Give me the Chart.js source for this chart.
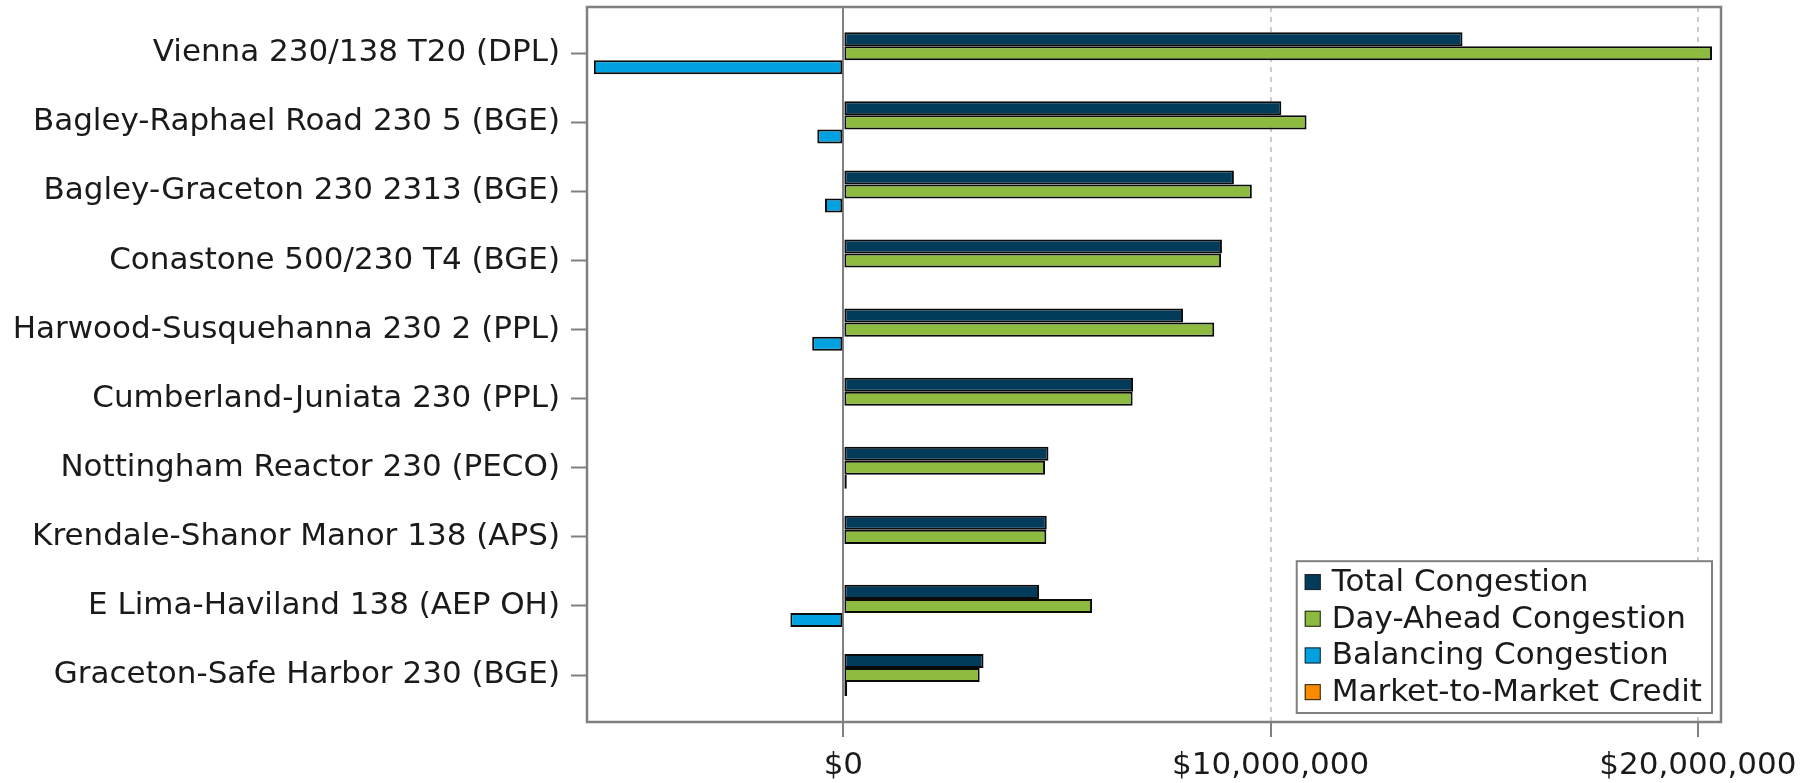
<!DOCTYPE html>
<html>
<head>
<meta charset="utf-8">
<script src="https://cdn.jsdelivr.net/npm/chart.js@4.4.1/dist/chart.umd.min.js"></script>
<style>
  html, body { margin: 0; padding: 0; background: #fff; }
  #wrap { width: 1803px; height: 783px; }
</style>
</head>
<body>
<div id="wrap"><canvas id="chart" width="1803" height="783"></canvas></div>
<script>
// Data (dollars)
const constraints = [
    'Vienna 230/138 T20 (DPL)',
    'Bagley-Raphael Road 230 5 (BGE)',
    'Bagley-Graceton 230 2313 (BGE)',
    'Conastone 500/230 T4 (BGE)',
    'Harwood-Susquehanna 230 2 (PPL)',
    'Cumberland-Juniata 230 (PPL)',
    'Nottingham Reactor 230 (PECO)',
    'Krendale-Shanor Manor 138 (APS)',
    'E Lima-Haviland 138 (AEP OH)',
    'Graceton-Safe Harbor 230 (BGE)'
];
const totalCongestion = [14490000, 10250000, 9140000, 8860000, 7950000, 6780000, 4800000, 4760000, 4580000, 3280000];
const dayAheadCongestion = [20330000, 10840000, 9560000, 8840000, 8680000, 6770000, 4720000, 4750000, 5820000, 3190000];
const balancingCongestion = [-5840000, -610000, -430000, 20000, -730000, 0, 80000, 0, -1240000, 90000];
const marketToMarketCredit = [0, 0, 0, 0, 0, 0, 0, 0, 0, 0];
const xTicks = [0, 10000000, 20000000];

const FONT = { family: '"DejaVu Sans", sans-serif', size: 31 };
const TEXT_COLOR = '#1a1a1a';
const AXIS_GRAY = '#808080';

function toPoints(arr) {
    return arr.map((v, i) => ({ x: v, y: i }));
}

// frame around the plot area
const framePlugin = {
    id: 'frame',
    beforeDatasetsDraw(chart) {
        const { ctx, chartArea: a } = chart;
        ctx.save();
        ctx.strokeStyle = AXIS_GRAY;
        ctx.lineWidth = 2.5;
        ctx.strokeRect(a.left, a.top, a.right - a.left, a.bottom - a.top);
        ctx.restore();
    }
};

// boxed legend sitting in the lower right of the plot
const boxLegend = {
    id: 'boxLegend',
    afterDraw(chart) {
        const { ctx, chartArea: a } = chart;
        const items = chart.data.datasets;
        ctx.save();
        ctx.font = `${FONT.size}px ${FONT.family}`;
        const textW = Math.max(...items.map(d => ctx.measureText(d.label).width));
        const rowH = 36.7;
        const w = 8 + 16 + 11 + textW + 10;
        const h = rowH * items.length + 5;
        const right = a.right - 9, bottom = a.bottom - 9;
        const left = right - w, top = bottom - h;

        ctx.fillStyle = '#fff';
        ctx.fillRect(left, top, w, h);
        ctx.strokeStyle = AXIS_GRAY;
        ctx.lineWidth = 2;
        ctx.strokeRect(left, top, w, h);

        ctx.textBaseline = 'middle';
        items.forEach((d, i) => {
            const cy = top + 2.5 + rowH * (i + 0.5);
            ctx.fillStyle = d.backgroundColor;
            ctx.fillRect(left + 8, cy - 8, 16, 16);
            ctx.strokeStyle = '#222';
            ctx.lineWidth = 1;
            ctx.strokeRect(left + 8.5, cy - 7.5, 15, 15);
            ctx.fillStyle = TEXT_COLOR;
            ctx.fillText(d.label, left + 35, cy + 1);
        });
        ctx.restore();
    }
};

const ctx = document.getElementById('chart').getContext('2d');
const chart = new Chart(ctx, {
    type: 'bar',
    data: {
        datasets: [
            { label: 'Total Congestion', data: toPoints(totalCongestion), backgroundColor: '#033b5a' },
            { label: 'Day-Ahead Congestion', data: toPoints(dayAheadCongestion), backgroundColor: '#8cbb3f' },
            { label: 'Balancing Congestion', data: toPoints(balancingCongestion), backgroundColor: '#00a1e0' },
            { label: 'Market-to-Market Credit', data: toPoints(marketToMarketCredit), backgroundColor: '#f98b00', grouped: false }
        ]
    },
    options: {
        indexAxis: 'y',
        responsive: false,
        animation: false,
        layout: { padding: { top: 7, right: 82, left: 0, bottom: 0 } },
        datasets: {
            bar: {
                categoryPercentage: 0.61,
                barPercentage: 1,
                borderWidth: 2,
                borderColor: '#0a0a0a',
                borderSkipped: false
            }
        },
        scales: {
            x: {
                type: 'linear',
                min: -6000000,
                max: 20540000,
                afterBuildTicks: s => { s.ticks = xTicks.map(v => ({ value: v })); },
                afterFit: s => { s.height = 61; s.paddingLeft = 0; s.paddingRight = 0; },
                grid: {
                    color: c => (c.tick && c.tick.value === 0) ? AXIS_GRAY : '#cccccc',
                    lineWidth: 2,
                    tickLength: 15,
                    tickColor: AXIS_GRAY,
                    tickWidth: 2
                },
                border: {
                    display: false,
                    dash: c => (c.tick && c.tick.value !== 0) ? [5, 5] : []
                },
                ticks: {
                    callback: v => '$' + Number(v).toLocaleString('en-US'),
                    font: FONT,
                    color: TEXT_COLOR,
                    padding: 10,
                    maxRotation: 0,
                    autoSkip: false
                }
            },
            y: {
                type: 'linear',
                reverse: true,
                offset: false,
                min: -0.67,
                max: 9.68,
                afterBuildTicks: s => { s.ticks = constraints.map((c, i) => ({ value: i })); },
                afterFit: s => { s.width = 587; s.paddingTop = 0; s.paddingBottom = 0; },
                grid: {
                    offset: false,
                    drawOnChartArea: false,
                    tickLength: 16,
                    tickColor: AXIS_GRAY,
                    tickWidth: 2
                },
                border: { display: false },
                ticks: {
                    callback: v => constraints[v],
                    font: FONT,
                    color: TEXT_COLOR,
                    padding: 11,
                    autoSkip: false
                }
            }
        },
        plugins: {
            legend: { display: false },
            tooltip: { enabled: false }
        }
    },
    plugins: [framePlugin, boxLegend]
});
</script>
</body>
</html>
